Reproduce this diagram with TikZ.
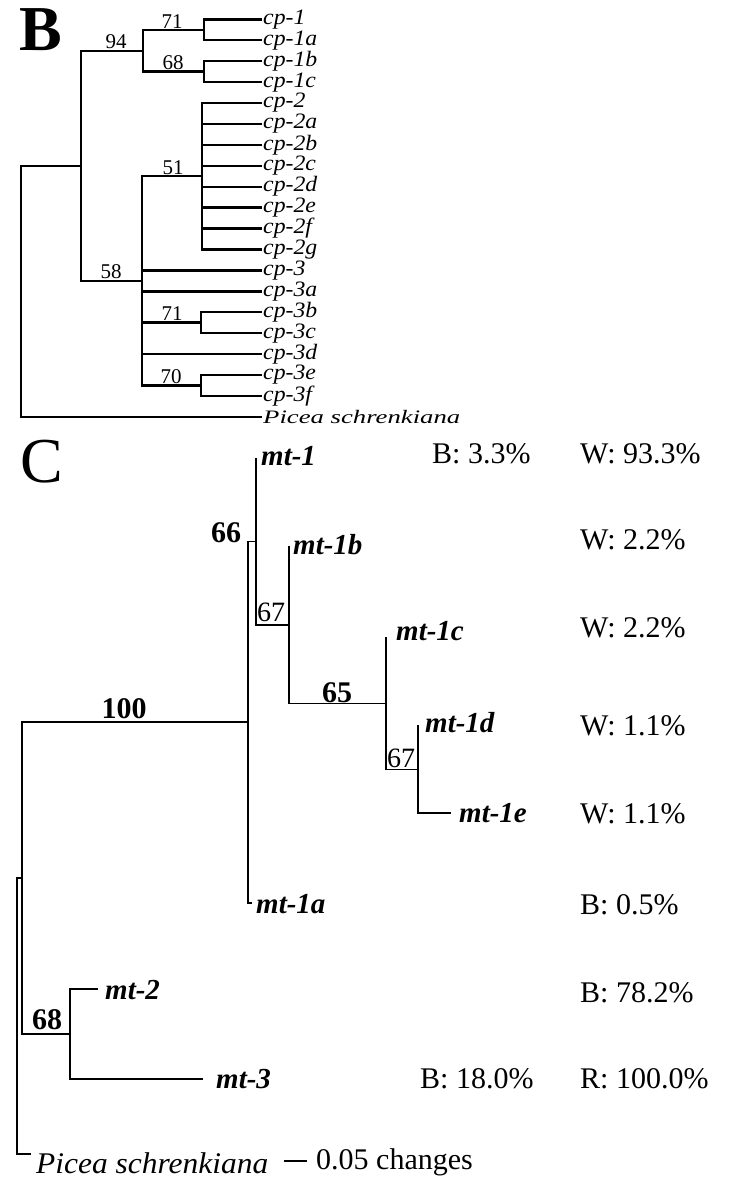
\documentclass[tikz,border=0pt]{standalone}
\usepackage{fontspec}
\usepackage{graphicx}
\setmainfont{Liberation Serif}
\newfontfamily\cpfont{Liberation Serif}[FakeStretch=1.08]
\begin{document}
\begin{tikzpicture}[x={(1pt,0pt)}, y={(0pt,-1pt)},
  treeB/.style={line width=2.4pt},
  treeC/.style={line width=1.8pt},
  leafB/.style={anchor=west, inner sep=1pt, font=\cpfont\fontsize{22}{22}\selectfont\itshape},
  bsB/.style={anchor=south, inner sep=1.5pt, font=\fontsize{21}{21}\selectfont},
  leafC/.style={anchor=west, inner sep=1pt, font=\fontsize{29}{29}\selectfont\bfseries\itshape},
  bsC/.style={inner sep=0pt, font=\fontsize{30}{30}\selectfont\bfseries},
  bsCr/.style={inner sep=0pt, font=\fontsize{28}{28}\selectfont},
  pct/.style={anchor=west, inner sep=0pt, font=\fontsize{30}{30}\selectfont}]
\useasboundingbox (0,0) rectangle (733,1189);

% ---------------- Panel B ----------------
\node[font=\fontsize{64}{64}\selectfont\bfseries, inner sep=0pt] (labB) at (41,30) {B};

\node[leafB] (cp1)  at (262,19.3)  {cp-1};
\node[leafB] (cp1a) at (262,40.2)  {cp-1a};
\node[leafB] (cp1b) at (262,61.1)  {cp-1b};
\node[leafB] (cp1c) at (262,82.1)  {cp-1c};
\node[leafB] (cp2)  at (262,103.0) {cp-2};
\node[leafB] (cp2a) at (262,123.9) {cp-2a};
\node[leafB] (cp2b) at (262,144.8) {cp-2b};
\node[leafB] (cp2c) at (262,165.7) {cp-2c};
\node[leafB] (cp2d) at (262,186.7) {cp-2d};
\node[leafB] (cp2e) at (262,207.6) {cp-2e};
\node[leafB] (cp2f) at (262,228.5) {cp-2f};
\node[leafB] (cp2g) at (262,249.4) {cp-2g};
\node[leafB] (cp3)  at (262,270.3) {cp-3};
\node[leafB] (cp3a) at (262,291.3) {cp-3a};
\node[leafB] (cp3b) at (262,312.2) {cp-3b};
\node[leafB] (cp3c) at (262,333.1) {cp-3c};
\node[leafB] (cp3d) at (262,354.0) {cp-3d};
\node[leafB] (cp3e) at (262,375.0) {cp-3e};
\node[leafB] (cp3f) at (262,395.9) {cp-3f};
\node[anchor=west, inner sep=1pt] (picB) at (262,416.8)
  {\resizebox{197pt}{\height}{\fontsize{19}{19}\selectfont\itshape Picea schrenkiana}};

\coordinate (b71)  at (204,29.8);
\coordinate (b68)  at (204,71.6);
\coordinate (b94)  at (143,50.7);
\coordinate (b51)  at (202,176.2);
\coordinate (b71b) at (201,322.6);
\coordinate (b70)  at (201,385.5);
\coordinate (b58)  at (142,280.8);
\coordinate (bA)   at (81,165.7);
\coordinate (bR)   at (21,291.3);

\draw[treeB] (b71) |- (cp1.west) (b71) |- (cp1a.west);
\draw[treeB] (b68) |- (cp1b.west) (b68) |- (cp1c.west);
\draw[treeB] (b94) |- (b71) (b94) |- (b68);
\draw[treeB] (b51) |- (cp2.west) (b51) |- (cp2a.west) (b51) |- (cp2b.west)
             (b51) |- (cp2c.west) (b51) |- (cp2d.west) (b51) |- (cp2e.west)
             (b51) |- (cp2f.west) (b51) |- (cp2g.west);
\draw[treeB] (b71b) |- (cp3b.west) (b71b) |- (cp3c.west);
\draw[treeB] (b70) |- (cp3e.west) (b70) |- (cp3f.west);
\draw[treeB] (b58) |- (b51) (b58) |- (cp3.west) (b58) |- (cp3a.west)
             (b58) |- (b71b) (b58) |- (cp3d.west) (b58) |- (b70);
\draw[treeB] (bA) |- (b94) (bA) |- (b58);
\draw[treeB] (bR) |- (bA) (bR) |- (picB.west);

\node[bsB] (s94)  at (116,50.7)  {94};
\node[bsB] (s71)  at (172,29.8)  {71};
\node[bsB] (s68)  at (173,71.6)  {68};
\node[bsB] (s51)  at (173,176.2) {51};
\node[bsB] (s58)  at (111,280.8) {58};
\node[bsB] (s71b) at (172,322.6) {71};
\node[bsB] (s70)  at (171,385.5) {70};

% ---------------- Panel C ----------------
\node[font=\fontsize{64}{64}\selectfont, inner sep=0pt] (labC) at (42,462) {C};

\coordinate (t1)   at (256,458);
\coordinate (c1)   at (256,541.5);
\coordinate (t1b)  at (289,546);
\coordinate (c67a) at (289,625);
\coordinate (t1c)  at (386,637);
\coordinate (c65)  at (386,703.5);
\coordinate (t1d)  at (418,725);
\coordinate (t1e)  at (451,813);
\coordinate (c67b) at (418,769.5);
\coordinate (t1a)  at (252,903);
\coordinate (c66)  at (248,722);
\coordinate (t2)   at (98,989);
\coordinate (t3)   at (203,1079);
\coordinate (c68)  at (70,1034);
\coordinate (c2)   at (22,878);
\coordinate (tP)   at (31,1154);
\coordinate (cR)   at (17,1016);

\draw[treeC] (c1) |- (t1) (c1) |- (c67a);
\draw[treeC] (c67a) |- (t1b) (c67a) |- (c65);
\draw[treeC] (c65) |- (t1c) (c65) |- (c67b);
\draw[treeC] (c67b) |- (t1d) (c67b) |- (t1e);
\draw[treeC] (c66) |- (c1) (c66) |- (t1a);
\draw[treeC] (c2) |- (c66) (c2) |- (c68);
\draw[treeC] (c68) |- (t2) (c68) |- (t3);
\draw[treeC] (cR) |- (c2) (cR) |- (tP);

\node[leafC] (mt1)  at (260,456) {mt-1};
\node[leafC] (mt1b) at (292,545) {mt-1b};
\node[leafC] (mt1c) at (395,631) {mt-1c};
\node[leafC] (mt1d) at (424,723) {mt-1d};
\node[leafC] (mt1e) at (458,813) {mt-1e};
\node[leafC] (mt1a) at (255,904) {mt-1a};
\node[leafC] (mt2)  at (104,990) {mt-2};
\node[leafC] (mt3)  at (215,1079) {mt-3};
\node[anchor=west, inner sep=0pt] (picC) at (36,1163)
  {\resizebox{232pt}{\height}{\fontsize{30}{30}\selectfont\itshape Picea schrenkiana}};

\node[bsC]  (s66)  at (226,533)  {66};
\node[bsC]  (s100) at (124,709)  {100};
\node[bsC]  (s65)  at (337,693)  {65};
\node[bsC]  (s68c) at (47,1020)  {68};
\node[bsCr] (s67a) at (271,612)  {67};
\node[bsCr] (s67b) at (401,758)  {67};

\node[pct] (p1)  at (432,454)  {B: 3.3\%};
\node[pct] (p2)  at (580,454)  {W: 93.3\%};
\node[pct] (p3)  at (580,540)  {W: 2.2\%};
\node[pct] (p4)  at (580,628)  {W: 2.2\%};
\node[pct] (p5)  at (580,726)  {W: 1.1\%};
\node[pct] (p6)  at (580,814)  {W: 1.1\%};
\node[pct] (p7)  at (580,905)  {B: 0.5\%};
\node[pct] (p8)  at (580,993)  {B: 78.2\%};
\node[pct] (p9)  at (420,1079) {B: 18.0\%};
\node[pct] (p10) at (580,1079) {R: 100.0\%};

\coordinate (sb1) at (284,1161);
\coordinate (sb2) at (307,1161);
\draw[treeC] (sb1) -- (sb2);
\node[pct] (scl) at (316,1162) {0.05 changes};
\end{tikzpicture}
\end{document}
